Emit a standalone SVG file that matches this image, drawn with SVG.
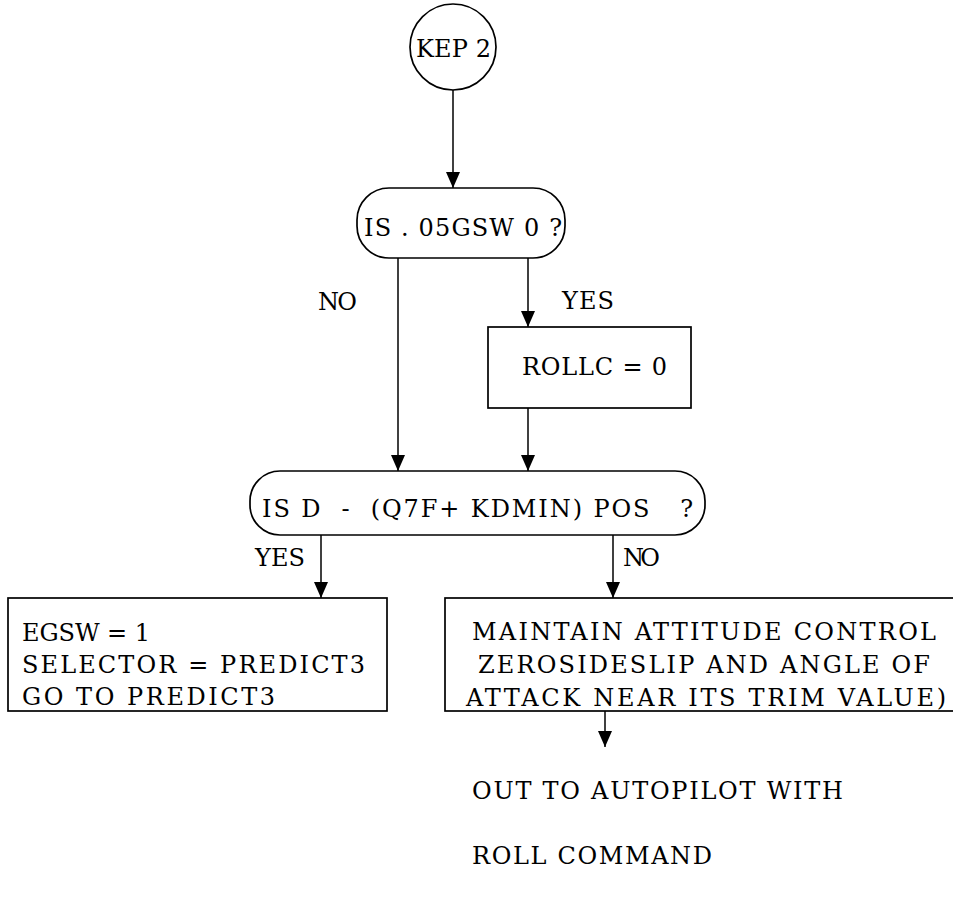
<svg xmlns="http://www.w3.org/2000/svg" width="953" height="911" viewBox="0 0 953 911">
<defs>
<style>
.s{fill:none;stroke:#000;stroke-width:1.7}
.t{font-family:"DejaVu Serif","Liberation Serif",serif;font-size:24px;fill:#000}
.c{stroke:#000;stroke-width:1.5;fill:none}
</style>
<marker id="a" markerUnits="userSpaceOnUse" markerWidth="18" markerHeight="16" viewBox="0 0 18 16" refX="17" refY="8" orient="auto">
<path d="M1,1 L17,8 L1,15 Z" fill="#000"/>
</marker>
</defs>
<rect width="953" height="911" fill="#fff"/>
<g id="connectors">
<line class="c" x1="453" y1="90" x2="453" y2="188" marker-end="url(#a)"/>
<line class="c" x1="398" y1="258" x2="398" y2="471" marker-end="url(#a)"/>
<line class="c" x1="528" y1="258" x2="528" y2="327" marker-end="url(#a)"/>
<line class="c" x1="528" y1="408" x2="528" y2="471" marker-end="url(#a)"/>
<line class="c" x1="321" y1="535" x2="321" y2="598" marker-end="url(#a)"/>
<line class="c" x1="613" y1="535" x2="613" y2="598" marker-end="url(#a)"/>
<line class="c" x1="605" y1="711" x2="605" y2="747" marker-end="url(#a)"/>
<text class="t" x="318" y="310" textLength="39">NO</text>
<text class="t" x="562" y="309" textLength="52">YES</text>
<text class="t" x="255" y="566" textLength="50">YES</text>
<text class="t" x="623" y="566" textLength="37">NO</text>
</g>
<g id="kep2">
<circle class="s" cx="453" cy="47" r="43"/>
<text class="t" x="416" y="57" textLength="75">KEP 2</text>
</g>
<g id="dec1">
<rect class="s" x="357" y="188" width="208" height="70" rx="32"/>
<text class="t" x="364" y="236" textLength="198">IS . 05GSW 0 ?</text>
</g>
<g id="rollc">
<rect class="s" x="488" y="327" width="203" height="81"/>
<text class="t" x="522" y="375" textLength="145">ROLLC = 0</text>
</g>
<g id="dec2">
<rect class="s" x="250" y="471" width="455" height="64" rx="30"/>
<text class="t" x="262" y="517" textLength="431" xml:space="preserve">IS D  -  (Q7F+ KDMIN) POS   ?</text>
</g>
<g id="egsw">
<rect class="s" x="8" y="598" width="379" height="113"/>
<text class="t" x="22" y="641" textLength="128">EGSW = 1</text>
<text class="t" x="22" y="673" textLength="343">SELECTOR = PREDICT3</text>
<text class="t" x="22" y="705" textLength="253">GO TO PREDICT3</text>
</g>
<g id="maintain">
<rect class="s" x="445" y="598" width="515" height="113"/>
<text class="t" x="472" y="640" textLength="464">MAINTAIN ATTITUDE CONTROL</text>
<text class="t" x="478" y="673" textLength="452">ZEROSIDESLIP AND ANGLE OF</text>
<text class="t" x="466" y="706" textLength="480">ATTACK NEAR ITS TRIM VALUE)</text>
</g>
<g id="out">
<text class="t" x="472" y="799" textLength="371">OUT TO AUTOPILOT WITH</text>
<text class="t" x="472" y="864" textLength="240">ROLL COMMAND</text>
</g>
</svg>
